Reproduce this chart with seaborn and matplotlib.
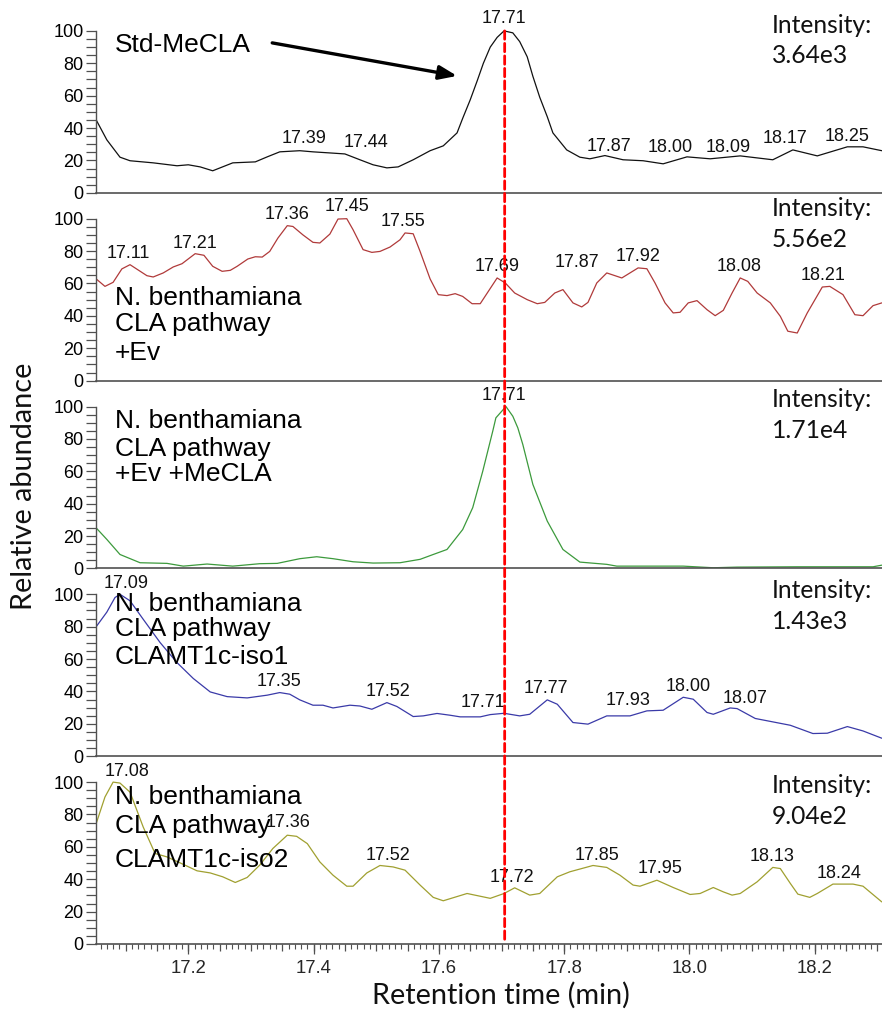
import matplotlib
matplotlib.use("Agg")
import matplotlib.pyplot as plt
import seaborn as sns
import pandas as pd
import numpy as np
from matplotlib.patches import ConnectionPatch
from matplotlib.ticker import FixedLocator, MultipleLocator, NullFormatter

# ---------------- data (retention time in min, relative abundance in %) ----------------
t_std = [17.053, 17.070, 17.091, 17.107, 17.144, 17.182, 17.200, 17.219, 17.239, 17.271,
         17.307, 17.326, 17.346, 17.378, 17.399, 17.431, 17.450, 17.474, 17.495, 17.517,
         17.535, 17.559, 17.586, 17.607, 17.629, 17.638, 17.650, 17.661, 17.671, 17.682,
         17.693, 17.704, 17.718, 17.729, 17.741, 17.750, 17.761, 17.773, 17.782, 17.804,
         17.825, 17.841, 17.865, 17.894, 17.926, 17.958, 17.996, 18.033, 18.081, 18.133,
         18.165, 18.204, 18.252, 18.277, 18.307]
y_std = [45, 32.7, 22, 19.8, 18.5, 16.7, 17.3, 16, 13.6, 18.5,
         19.1, 22.2, 25.3, 26, 25.3, 24.5, 24, 20.4, 17.3, 15.4,
         16, 20.4, 26, 29, 37, 46, 57.4, 69, 80, 90,
         96, 100, 98.8, 93.4, 84, 72, 59, 47, 37, 26.5,
         22, 21, 23, 20.4, 19.8, 17.9, 22.2, 21, 22.8, 20.4,
         26.5, 22.8, 28.4, 28.4, 26]

t_ev = [17.053, 17.067, 17.080, 17.094, 17.107, 17.134, 17.144, 17.160, 17.176, 17.190,
        17.211, 17.225, 17.239, 17.254, 17.267, 17.278, 17.295, 17.307, 17.318, 17.330,
        17.343, 17.358, 17.367, 17.383, 17.399, 17.410, 17.426, 17.439, 17.453, 17.463,
        17.479, 17.493, 17.506, 17.522, 17.538, 17.546, 17.559, 17.570, 17.586, 17.599,
        17.613, 17.626, 17.638, 17.653, 17.666, 17.693, 17.706, 17.721, 17.741, 17.757,
        17.769, 17.785, 17.798, 17.814, 17.828, 17.838, 17.852, 17.868, 17.892, 17.918,
        17.932, 17.945, 17.961, 17.974, 17.985, 17.998, 18.012, 18.028, 18.041, 18.054,
        18.068, 18.081, 18.093, 18.108, 18.129, 18.145, 18.157, 18.172, 18.188, 18.212,
        18.224, 18.245, 18.264, 18.277, 18.293, 18.307]
y_ev = [62.8, 58.2, 60.7, 69, 71.6, 64.8, 64, 66.5, 70.2, 72.2,
        78.4, 77.4, 70.6, 67.5, 68.1, 70.6, 75.1, 76.5, 76.3, 79.8,
        88, 95.7, 95.2, 90, 85.4, 85, 90.5, 99.8, 100, 93.2,
        80.9, 79.2, 79.8, 82.5, 87, 91.2, 90.7, 79.8, 62.8, 53.1,
        52.5, 53.7, 52, 47.5, 47.5, 63.4, 60.3, 54.1, 50, 47.5,
        48.3, 54.1, 56.2, 48, 45.5, 48.3, 60.3, 66.5, 63.4, 69.6,
        69.1, 60.3, 48, 41.8, 42.2, 48, 49.4, 43.8, 40.1, 43.4,
        54.1, 63.4, 61.3, 54.1, 48, 39.7, 30.5, 29.4, 41.8, 57.8,
        58.2, 53.1, 40.7, 40.1, 46.3, 48]

t_evmecla = [17.053, 17.070, 17.091, 17.123, 17.166, 17.192, 17.230, 17.271, 17.314, 17.342,
             17.378, 17.405, 17.431, 17.463, 17.495, 17.538, 17.570, 17.591, 17.613, 17.638,
             17.654, 17.670, 17.686, 17.691, 17.707, 17.718, 17.726, 17.734, 17.750, 17.773,
             17.798, 17.825, 17.868, 17.884, 17.990, 18.038, 18.076, 18.172, 18.293, 18.307]
y_evmecla = [25, 17.9, 8.6, 3.5, 3.1, 1.4, 2.7, 1.4, 2.9, 3.1,
             6, 7.2, 6, 4.1, 3.3, 3.5, 5.6, 8.6, 11.7, 24,
             37.5, 60, 84.8, 93, 100, 94, 86.8, 76.5, 51.9, 29.2,
             11.7, 3.9, 2.5, 1.4, 1.4, 0.4, 0.8, 1, 1, 2]

t_iso1 = [17.053, 17.070, 17.083, 17.091, 17.107, 17.128, 17.155, 17.182, 17.208, 17.235,
          17.262, 17.294, 17.326, 17.346, 17.362, 17.378, 17.399, 17.415, 17.431, 17.458,
          17.474, 17.493, 17.517, 17.533, 17.559, 17.575, 17.597, 17.618, 17.634, 17.666,
          17.682, 17.704, 17.729, 17.745, 17.773, 17.789, 17.814, 17.838, 17.868, 17.905,
          17.932, 17.958, 17.990, 18.006, 18.028, 18.038, 18.065, 18.076, 18.105, 18.161,
          18.197, 18.220, 18.252, 18.277, 18.307]
y_iso1 = [80, 89, 98, 100, 96, 84.6, 70.2, 57.8, 48, 39.7,
          36.8, 36, 37.7, 39.3, 38.3, 34.8, 31.5, 31.5, 29.8, 31.5,
          31, 29, 33.1, 30.7, 24.5, 24.9, 26.4, 25.3, 24.3, 24.3,
          25.7, 26.5, 24.9, 25.9, 34.8, 32.1, 20.8, 19.8, 24.9, 24.9,
          28, 28.4, 36.4, 35.2, 27, 25.9, 29.8, 29.4, 23.3, 19.1,
          14, 14.2, 18.3, 15.6, 11.1]

t_iso2 = [17.053, 17.067, 17.080, 17.091, 17.107, 17.128, 17.147, 17.166, 17.187, 17.214,
          17.235, 17.255, 17.275, 17.294, 17.314, 17.335, 17.358, 17.373, 17.390, 17.410,
          17.431, 17.453, 17.463, 17.485, 17.506, 17.527, 17.546, 17.570, 17.591, 17.607,
          17.645, 17.682, 17.704, 17.721, 17.745, 17.761, 17.789, 17.809, 17.846, 17.868,
          17.889, 17.910, 17.921, 17.948, 17.974, 18.001, 18.017, 18.038, 18.054, 18.068,
          18.081, 18.108, 18.133, 18.145, 18.161, 18.173, 18.192, 18.204, 18.229, 18.261,
          18.277, 18.307]
y_iso2 = [74.4, 90.8, 100, 99.4, 93.8, 72.3, 55.9, 53.8, 50.1, 45.2,
          43.9, 41.5, 38, 41.1, 48.7, 59, 67.2, 66.5, 62, 50.7,
          42.5, 35.7, 35.7, 43.9, 48.5, 47.6, 45.6, 36.4, 28.8, 26.7,
          31.2, 28.2, 31.2, 34.7, 30.2, 31.2, 41.5, 44.6, 48.5, 47.3,
          42.5, 36.4, 35.7, 39.4, 34.9, 30.6, 31.2, 34.9, 32.2, 30.2,
          31.2, 38.4, 47.3, 46.6, 37.4, 30.8, 28.8, 31.2, 37, 37,
          35.7, 26]

# peak labels: text, time, abundance
peaks_std_text = ["17.39", "17.44", "17.71", "17.87", "18.00", "18.09", "18.17", "18.25"]
peaks_std_t = [17.385, 17.484, 17.704, 17.871, 17.969, 18.061, 18.153, 18.251]
peaks_std_y = [30.7, 28, 104.7, 26, 25.5, 25.5, 30.7, 31.7]

peaks_ev_text = ["17.11", "17.21", "17.36", "17.45", "17.55", "17.69", "17.87", "17.92", "18.08", "18.21"]
peaks_ev_t = [17.104, 17.211, 17.358, 17.453, 17.543, 17.693, 17.820, 17.918, 18.079, 18.213]
peaks_ev_y = [75.7, 81.9, 99.8, 105, 95.7, 67.5, 70.2, 73.7, 67.9, 61.9]

peaks_evmecla_text = ["17.71"]
peaks_evmecla_t = [17.704]
peaks_evmecla_y = [104]

peaks_iso1_text = ["17.09", "17.35", "17.52", "17.71", "17.77", "17.93", "18.00", "18.07"]
peaks_iso1_t = [17.101, 17.345, 17.518, 17.670, 17.771, 17.902, 17.998, 18.089]
peaks_iso1_y = [103.7, 43.2, 37, 30.2, 39, 31.5, 40, 33]

peaks_iso2_text = ["17.08", "17.36", "17.52", "17.72", "17.85", "17.95", "18.13", "18.24"]
peaks_iso2_t = [17.102, 17.359, 17.518, 17.717, 17.852, 17.953, 18.132, 18.238]
peaks_iso2_y = [104, 72, 52, 38, 52, 43.7, 51, 41]

sample_names = [["Std-MeCLA"],
                ["N. benthamiana", "CLA pathway", "+Ev"],
                ["N. benthamiana", "CLA pathway", "+Ev +MeCLA"],
                ["N. benthamiana", "CLA pathway", "CLAMT1c-iso1"],
                ["N. benthamiana", "CLA pathway", "CLAMT1c-iso2"]]
intensities = ["3.64e3", "5.56e2", "1.71e4", "1.43e3", "9.04e2"]
target_rt = 17.705
x_major_ticks = [17.2, 17.4, 17.6, 17.8, 18.0, 18.2]
y_major_ticks = [0, 20, 40, 60, 80, 100]

# ---------------- styling ----------------
sns.set_theme(style="ticks")
plt.rcParams['font.family'] = ['Liberation Sans', 'DejaVu Sans']
CAL = ['Lato', 'DejaVu Sans']

traces = [
    (t_std, y_std, "#111111", peaks_std_text, peaks_std_t, peaks_std_y),
    (t_ev, y_ev, "#b03a3a", peaks_ev_text, peaks_ev_t, peaks_ev_y),
    (t_evmecla, y_evmecla, "#3c9a3c", peaks_evmecla_text, peaks_evmecla_t, peaks_evmecla_y),
    (t_iso1, y_iso1, "#3a3aa8", peaks_iso1_text, peaks_iso1_t, peaks_iso1_y),
    (t_iso2, y_iso2, "#a0a030", peaks_iso2_text, peaks_iso2_t, peaks_iso2_y),
]
# baselines (axes fraction) of each text line
name_y = [[0.748],
          [0.404, 0.262, 0.108],
          [0.748, 0.597, 0.468],
          [0.773, 0.640, 0.489],
          [0.748, 0.592, 0.411]]
int_y = [(0.853, 0.690), (0.874, 0.711), (0.858, 0.695), (0.844, 0.676), (0.805, 0.638)]

W, H = 882, 1014
fig = plt.figure(figsize=(W / 100, H / 100), dpi=100)
gs = fig.add_gridspec(5, 1, left=96 / W, right=1.0, top=1 - 5 / H, bottom=1 - 944 / H, hspace=0)
axes = [fig.add_subplot(gs[i]) for i in range(5)]

XMIN, XMAX = 17.0527, 18.3073
axis_col = "#505050"

for i, (ax, (tt, yy, col, ptxt, pt, py)) in enumerate(zip(axes, traces)):
    df = pd.DataFrame({"t": tt, "y": yy})
    sns.lineplot(data=df, x="t", y="y", ax=ax, color=col, lw=0.9, estimator=None, sort=False)
    ax.set_xlim(XMIN, XMAX)
    ax.set_ylim(0, 116)
    ax.set_xlabel("")
    ax.set_ylabel("")
    ax.patch.set_alpha(0)
    for s in ("top", "right"):
        ax.spines[s].set_visible(False)
    ax.spines["left"].set_bounds(0, 100)
    ax.spines["left"].set_color(axis_col)
    ax.spines["left"].set_linewidth(1.0)
    ax.spines["bottom"].set_color(axis_col)
    ax.spines["bottom"].set_linewidth(1.2)
    ax.yaxis.set_major_locator(FixedLocator(y_major_ticks))
    ax.yaxis.set_minor_locator(FixedLocator(np.arange(0, 101, 5)))
    ax.tick_params(axis="y", which="both", direction="out", length=7, width=0.9,
                   color=axis_col, labelsize=13, pad=2, labelcolor="black")
    if i < 4:
        ax.tick_params(axis="x", which="both", bottom=False, labelbottom=False)
    else:
        ax.xaxis.set_major_locator(MultipleLocator(0.05))
        ax.xaxis.set_minor_locator(MultipleLocator(0.01))
        ax.xaxis.set_major_formatter(NullFormatter())
        ax.tick_params(axis="x", which="major", direction="out", length=5, width=0.9, color=axis_col)
        ax.tick_params(axis="x", which="minor", direction="out", length=3.5, width=0.8, color=axis_col)
        sec = ax.secondary_xaxis("bottom")
        sec.set_xticks(x_major_ticks)
        sec.set_xticklabels([f"{v:.1f}" for v in x_major_ticks])
        sec.spines["bottom"].set_visible(False)
        sec.tick_params(axis="x", direction="out", length=7.5, width=0.9, color=axis_col,
                        labelsize=13.3, pad=4)
    # peak labels
    for s, x, y in zip(ptxt, pt, py):
        ax.text(x, y, s, ha="center", va="baseline", fontsize=13, color="#111111", clip_on=False)
    # sample name, one line at a time
    for line, yb in zip(sample_names[i], name_y[i]):
        ax.text(0.024, yb, line, transform=ax.transAxes, ha="left", va="baseline",
                fontsize=19, color="black")
    # intensity
    ax.text(0.860, int_y[i][0], "Intensity:", transform=ax.transAxes,
            ha="left", va="baseline", fontsize=17.7, family=CAL, color="#111111")
    ax.text(0.860, int_y[i][1], intensities[i], transform=ax.transAxes,
            ha="left", va="baseline", fontsize=17.7, family=CAL, color="#111111")

# arrow pointing at the standard peak
axes[0].annotate("", xy=(17.629, 72.2), xytext=(17.334, 92.6),
                 arrowprops=dict(arrowstyle="-|>,head_length=0.9,head_width=0.35",
                                 color="black", lw=2.4, shrinkA=0, shrinkB=0))

# red dashed retention-time marker across all panels
con = ConnectionPatch(xyA=(target_rt, 100), coordsA=axes[0].transData,
                      xyB=(target_rt, 1), coordsB=axes[4].transData,
                      color="red", lw=2.0, linestyle=(0, (3, 1.5)), zorder=10)
fig.add_artist(con)

fig.text(24 / W, 1 - 486 / H, "Relative abundance", rotation=90, ha="center", va="center",
         fontsize=20.8, family=CAL, color="#111111")
fig.text(501 / W, 1 - 1004 / H, "Retention time (min)", ha="center", va="baseline",
         fontsize=20.8, family=CAL, color="#111111")

fig.savefig("out.png", dpi=100)
